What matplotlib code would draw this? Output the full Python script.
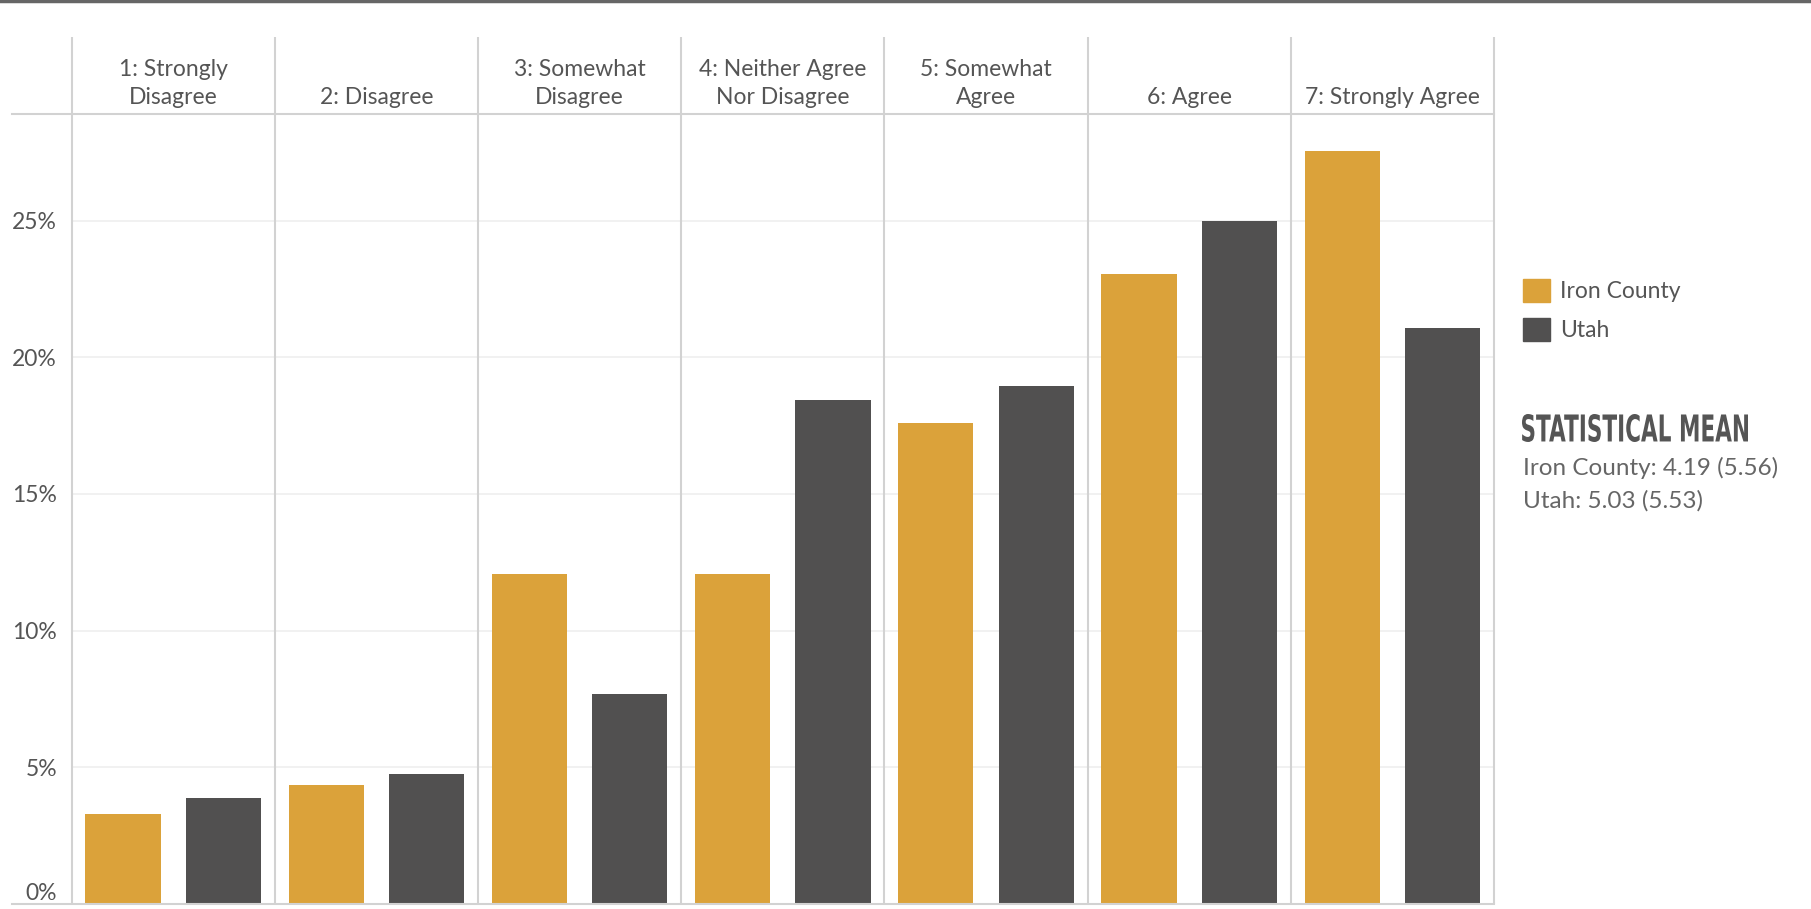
import numpy as np
import matplotlib
matplotlib.use("Agg")
import matplotlib.pyplot as plt
from matplotlib.lines import Line2D
from matplotlib.textpath import TextPath
from matplotlib.patches import PathPatch
from matplotlib.font_manager import FontProperties
from matplotlib.transforms import Affine2D, IdentityTransform

plt.rcParams['font.family'] = ['Lato', 'DejaVu Sans']

categorias = ["1: Strongly\nDisagree", "2: Disagree", "3: Somewhat\nDisagree",
              "4: Neither Agree\nNor Disagree", "5: Somewhat\nAgree", "6: Agree",
              "7: Strongly Agree"]
iron_county = [3.29, 4.35, 12.08, 12.08, 17.61, 23.06, 27.54]
utah = [3.89, 4.77, 7.69, 18.45, 18.96, 25.0, 21.07]
series_names = ["Iron County", "Utah"]
ticks_y = [0, 5, 10, 15, 20, 25]
titulo_media = "STATISTICAL MEAN"
media_lineas = ["Iron County: 4.19 (5.56)", "Utah: 5.03 (5.53)"]

color_iron = "#dba23a"
color_utah = "#515050"
color_texto = "#555555"
color_linea = "#d2d2d2"

W, H = 1811, 909
fig = plt.figure(figsize=(W / 100, H / 100), dpi=100)

# area del grafico (en pixeles de la figura)
x0, x1 = 71.6, 1494.0
y_base, y_top = 904.0, 114.0
ax = fig.add_axes([x0 / W, 1 - y_base / H, (x1 - x0) / W, (y_base - y_top) / H])
ymax = 28.9
ax.set_ylim(0, ymax)
ax.set_xlim(-0.5, len(categorias) - 0.5)

x = np.arange(len(categorias))
ancho = 0.37
off = 0.247
ax.bar(x - off, iron_county, ancho, color=color_iron, label=series_names[0], zorder=3)
ax.bar(x + off, utah, ancho, color=color_utah, label=series_names[1], zorder=3)

for t in ticks_y[1:]:
    ax.axhline(t, color="#efefef", lw=1.2, zorder=1)

# separadores verticales, subiendo hasta la cabecera
y_cab = (y_base - 37) / (y_base - y_top) * ymax
ax.vlines(np.arange(len(categorias) + 1) - 0.5, 0, y_cab, colors=color_linea,
          lw=1.5, clip_on=False, zorder=2)

for i, c in enumerate(categorias):
    ax.text(i, 29.26, c, ha="center", va="baseline", fontsize=16.5,
            color=color_texto, linespacing=1.42)

for s in ax.spines.values():
    s.set_visible(False)
ax.set_xticks([])
ax.set_yticks(ticks_y)
ax.set_yticklabels([f"{t}%" for t in ticks_y])
ax.tick_params(axis="y", length=0, pad=10.5, labelsize=16.5, labelcolor=color_texto)
ax.get_yticklabels()[0].set_va("bottom")

# lineas horizontales de cabecera y base
for yy in (y_top, y_base - 0.5):
    fig.add_artist(Line2D([11.5 / W, x1 / W], [1 - yy / H, 1 - yy / H],
                          color=color_linea, lw=1.5))
# borde oscuro arriba
fig.add_artist(Line2D([0, 1], [1 - 1 / H, 1 - 1 / H], color="#666666", lw=2.5))

# leyenda
fig.legend(handles=[plt.Rectangle((0, 0), 1, 1, color=color_iron),
                    plt.Rectangle((0, 0), 1, 1, color=color_utah)],
           labels=series_names, loc="upper left",
           bbox_to_anchor=(1523 / W, 1 - 279 / H), frameon=False,
           borderaxespad=0, borderpad=0,
           fontsize=16.5, handlelength=1.18, handleheight=1.18,
           handletextpad=0.44, labelspacing=0.67, labelcolor=color_texto)

# titulo condensado: se dibuja como trazado y se comprime a lo ancho
tp = TextPath((0, 0), titulo_media, size=100,
              prop=FontProperties(family="DejaVu Sans", weight="bold"))
ext = tp.get_extents()
tr = (Affine2D().translate(-ext.x0, -ext.y0)
      .scale(226 / ext.width, 28 / ext.height)
      .translate(1522, H - 442))
fig.add_artist(PathPatch(tr.transform_path(tp), facecolor=color_texto,
                         edgecolor="none", transform=IdentityTransform()))

fig.text(1523 / W, 1 - 475 / H, media_lineas[0], fontsize=17.5, color="#666666",
         va="baseline", ha="left")
fig.text(1523 / W, 1 - 508 / H, media_lineas[1], fontsize=17.5, color="#666666",
         va="baseline", ha="left")

fig.savefig("out.png", dpi=100)
